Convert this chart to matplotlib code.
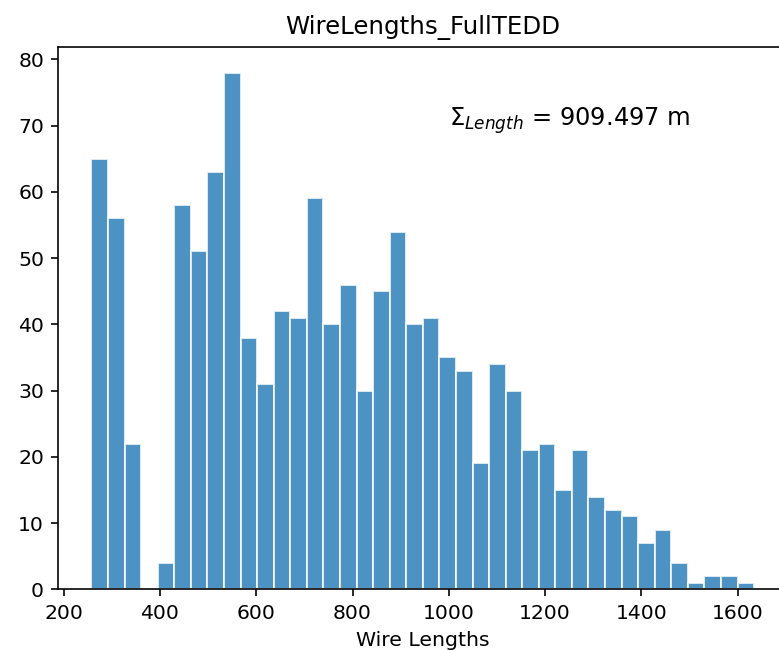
import numpy as np
import matplotlib
matplotlib.use('Agg')
import matplotlib.pyplot as plt

# histogram counts per bin
counts = [65, 56, 22, 0, 4, 58, 51, 63, 78, 38,
          31, 42, 41, 59, 40, 46, 30, 45, 54, 40,
          41, 35, 33, 19, 34, 30, 21, 22, 15, 21,
          14, 12, 11, 7, 9, 4, 1, 2, 2, 1]
length_min = 257.6
length_max = 1634.5
total_length = 909.497

title = 'WireLengths_FullTEDD'
xlabel = 'Wire Lengths'

edges = np.linspace(length_min, length_max, len(counts) + 1)
centers = 0.5 * (edges[:-1] + edges[1:])

dpi = 147
fig = plt.figure(figsize=(779 / dpi, 650 / dpi), dpi=dpi)
# the reference is cropped on the right, so the axes run past the edge
ax = fig.add_axes([58.3 / 779, 1 - 589.3 / 650, 729 / 779, 542.6 / 650])
ax.spines['right'].set_visible(False)

ax.hist(centers, bins=edges, weights=counts, color='tab:blue', alpha=0.8,
        edgecolor='white', linewidth=1.0)
ax.set_title(title)
ax.set_xlabel(xlabel)
ax.text(1000, 70, r'$\Sigma_{Length}$' + f' = {total_length:.3f} m', fontsize=11.8)

fig.savefig('out.png', dpi=dpi)
